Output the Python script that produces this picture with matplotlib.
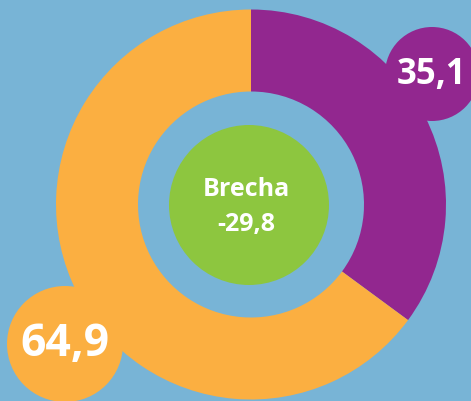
import matplotlib
matplotlib.use("Agg")
import matplotlib.pyplot as plt
from matplotlib.patches import Circle

# Data
labels = ["Purple", "Orange"]
values = [35.1, 64.9]
gap_label = "Brecha"
gap_value = -29.8

colors = ["#92278F", "#FBAF41"]
green = "#8DC63F"
bg = "#78B4D6"

def fmt(v):
    return f"{v:.1f}".replace(".", ",")

fig = plt.figure(figsize=(4.71, 4.02), dpi=100)
fig.patch.set_facecolor(bg)
ax = fig.add_axes([0, 0, 1, 1])
ax.set_facecolor(bg)

# Pixel-like coordinates
cx, cy = 251, 196.5
r_out, r_in = 195, 113

ax.pie(values, colors=colors, startangle=90, counterclock=False,
       radius=r_out, center=(cx, cy),
       wedgeprops=dict(width=r_out - r_in, linewidth=0))

# value bubbles
bubbles = [(432, 327, 47), (65, 57, 58)]
for (bx, by, br), col, v, fs in zip(bubbles, colors, values, [25, 32]):
    ax.add_patch(Circle((bx, by), br, color=col, lw=0, zorder=3))
    ax.text(bx, by, fmt(v), color="white", fontsize=fs, fontweight="bold",
            family="Open Sans", ha="center", va="center", zorder=4)

# center circle
ax.add_patch(Circle((249, 196), 80, color=green, lw=0, zorder=3))
ax.text(246, 195, f"{gap_label}\n{fmt(gap_value)}", color="white",
        fontsize=18, fontweight="bold", family="Open Sans",
        ha="center", va="center", linespacing=1.5, zorder=4)

ax.set_xlim(0, 471)
ax.set_ylim(0, 402)
ax.set_aspect("equal")
ax.axis("off")

fig.savefig("out.png", dpi=100, facecolor=bg)
